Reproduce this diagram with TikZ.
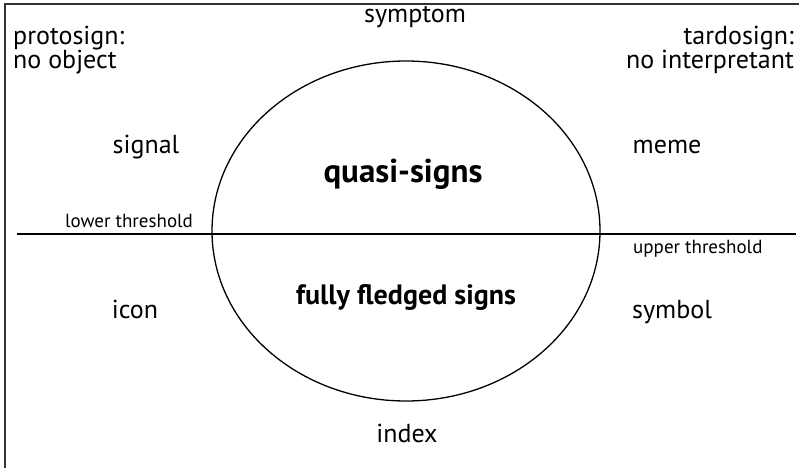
\documentclass[tikz,border=0pt]{standalone}
\usepackage{fontspec}
\setmainfont{PT Sans}
\usetikzlibrary{positioning, shapes.geometric}
\tikzset{
  x=1pt, y=-1pt,
  lbl/.style={inner sep=0pt, font=\fontsize{26}{22}\selectfont},
  smalllbl/.style={inner sep=0pt, font=\fontsize{19}{20}\selectfont},
  region/.style={inner sep=0pt, font=\fontsize{#1}{30}\selectfont\bfseries},
  rule/.style={line width=1.3pt},
}
\begin{document}
\begin{tikzpicture}
      \useasboundingbox (0,0) rectangle (799,468);
      % frame, top and left only
      \draw[line width=1.5pt, black!80] (799,4) -- (5,4) -- (5,468);

      \node[draw, ellipse, rule, minimum width=388pt, minimum height=340pt, inner sep=0pt] (sign) at (406,231) {};
      \coordinate (lowend) at (17,234);
      \coordinate (upend) at (796,234);
      \draw[rule] (lowend) -- (upend);

      \node[region=33, anchor=base] (quasi) at (403,182) {quasi-signs};
      \node[region=28, anchor=base] (full) at (406,304) {fully fledged signs};

      \node[lbl, anchor=base] (symptom) at (415,23) {symptom};
      \node[lbl, anchor=base west, align=left] (proto) at (13,69) {protosign:\\no object};
      \node[lbl, anchor=base east, align=right] (tardo) at (794,69) {tardosign:\\no interpretant};
      \node[lbl, anchor=base] (signal) at (146,153) {signal};
      \node[lbl, anchor=base] (meme) at (667,153) {meme};
      \node[lbl, anchor=base] (icon) at (135,318) {icon};
      \node[lbl, anchor=base] (symbol) at (672,318) {symbol};
      \node[lbl, anchor=base] (index) at (407,442) {index};

      \node[smalllbl, anchor=base west] (lower) at (65,227) {lower threshold};
      \node[smalllbl, anchor=base west] (upper) at (633,253) {upper threshold};
\end{tikzpicture}
\end{document}
